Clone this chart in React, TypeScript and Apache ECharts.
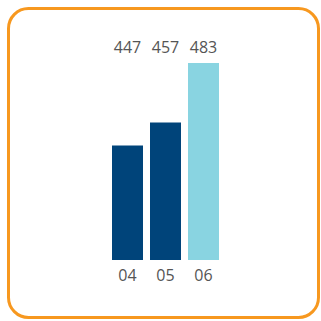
import React, { useEffect, useRef } from "react";
import * as echarts from "echarts";

const categories = ["04", "05", "06"];
const values = [447, 457, 483];
const barColors = ["#00447A", "#00447A", "#89D4E1"];

export default function App() {
  const ref = useRef<HTMLDivElement>(null);
  useEffect(() => {
    if (!ref.current) return;
    const chart = echarts.init(ref.current, undefined, { renderer: "svg" });
    chart.setOption({
      animation: false,
      backgroundColor: "#ffffff",
      graphic: [
        {
          type: "rect",
          shape: { x: 8.5, y: 8.5, width: 310, height: 309, r: 20 },
          style: { fill: "none", stroke: "#F7981F", lineWidth: 3 },
          z: 100,
        },
      ],
      grid: { left: 108.5, right: 98.5, top: 63, bottom: 61, containLabel: false },
      xAxis: [
        {
          type: "category",
          data: categories,
          position: "bottom",
          axisLine: { show: false },
          axisTick: { show: false },
          axisLabel: { color: "#555555", fontSize: 16, margin: 7, fontFamily: "Open Sans" },
        },
        {
          type: "category",
          data: values.map((v) => String(v)),
          position: "top",
          axisLine: { show: false },
          axisTick: { show: false },
          axisLabel: { color: "#555555", fontSize: 16, margin: 8, fontFamily: "Open Sans" },
        },
      ],
      yAxis: {
        type: "value",
        min: (v: { min: number }) => v.min - 50,
        max: (v: { max: number }) => v.max,
        show: false,
        splitLine: { show: false },
      },
      series: [
        {
          type: "bar",
          data: values.map((v, i) => ({ value: v, itemStyle: { color: barColors[i] } })),
          barWidth: 31,
          xAxisIndex: 0,
        },
      ],
    });
    return () => chart.dispose();
  }, []);
  return (
    <div
      ref={ref}
      style={{ position: "fixed", left: 0, top: 0, width: 321, height: 321 }}
    />
  );
}
